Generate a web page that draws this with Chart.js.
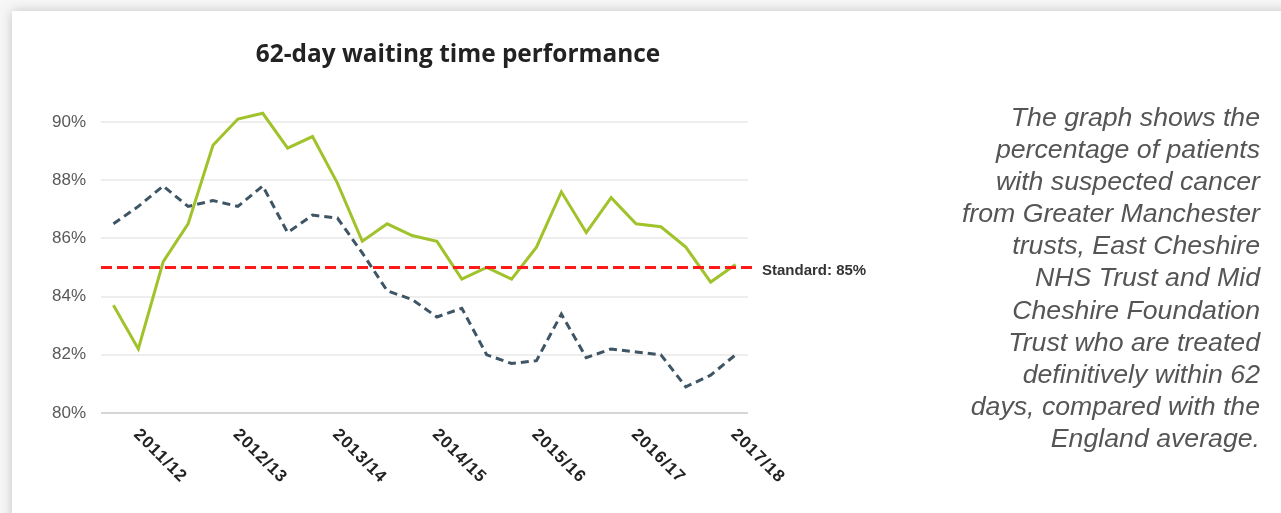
<!DOCTYPE html>
<html>
<head>
<meta charset="utf-8">
<script src="https://cdn.jsdelivr.net/npm/chart.js@4"></script>
<style>
  body { margin: 0; background: #f6f6f6; overflow: hidden; width: 1281px; height: 513px; position: relative; }
  .card { position: absolute; left: 12px; top: 11px; width: 1320px; height: 560px; background: #fff;
          box-shadow: 0 0 11px rgba(0,0,0,0.2); }
  #chart { position: absolute; left: 0; top: 0; }
  .note { position: absolute; right: 21px; top: 101px; text-align: right; white-space: nowrap;
          font: italic 26.7px "Liberation Sans", Arial, sans-serif; line-height: 32.1px; color: #555; }
</style>
</head>
<body>
<div class="card"></div>
<canvas id="chart" width="1281" height="513"></canvas>
<div class="note">The graph shows the<br>percentage of patients<br>with suspected cancer<br>from Greater Manchester<br>trusts, East Cheshire<br>NHS Trust and Mid<br>Cheshire Foundation<br>Trust who are treated<br>definitively within 62<br>days, compared with the<br>England average.</div>
<script>
// quarterly points, year label on the first quarter shown
const periods = ['', '2011/12', '', '', '', '2012/13', '', '', '', '2013/14', '', '', '',
  '2014/15', '', '', '', '2015/16', '', '', '', '2016/17', '', '', '', '2017/18'];

const gmValues = [83.7, 82.2, 85.2, 86.5, 89.2, 90.1, 90.3, 89.1, 89.5, 87.9, 85.9, 86.5, 86.1,
  85.9, 84.6, 85.0, 84.6, 85.7, 87.6, 86.2, 87.4, 86.5, 86.4, 85.7, 84.5, 85.1];

const englandValues = [86.5, 87.1, 87.8, 87.1, 87.3, 87.1, 87.8, 86.2, 86.8, 86.7, 85.5, 84.2, 83.9,
  83.3, 83.6, 82.0, 81.7, 81.8, 83.4, 81.9, 82.2, 82.1, 82.0, 80.9, 81.3, 82.0];

const standard = 85;
const yTicks = [80, 82, 84, 86, 88, 90];

const title = '62-day waiting time performance';

const extras = {
  id: 'extras',
  afterDatasetsDraw(chart) {
    const { ctx, chartArea, scales } = chart;
    const x = scales.x, y = scales.y;

    // standard line
    const sy = y.getPixelForValue(standard);
    ctx.save();
    ctx.strokeStyle = '#ff1a1a';
    ctx.lineWidth = 3;
    ctx.setLineDash([11, 5]);
    ctx.beginPath();
    ctx.moveTo(chartArea.left, sy);
    ctx.lineTo(chartArea.right + 7, sy);
    ctx.stroke();
    ctx.setLineDash([]);
    ctx.fillStyle = '#333';
    ctx.font = 'bold 15px "Liberation Sans", Arial, sans-serif';
    ctx.textBaseline = 'middle';
    ctx.fillText('Standard: ' + standard + '%', chartArea.right + 14, sy + 3);

    // title
    ctx.font = 'bold 24.4px "Open Sans", sans-serif';
    ctx.fillStyle = '#222';
    ctx.textAlign = 'center';
    ctx.fillText(title, 458, 55);

    // rotated year labels
    ctx.font = 'bold 17px "Liberation Sans", Arial, sans-serif';
    ctx.fillStyle = '#222';
    ctx.textAlign = 'left';
    ctx.letterSpacing = '1px';
    periods.forEach((p, i) => {
      if (!p) return;
      ctx.save();
      ctx.translate(x.getPixelForValue(i) - 2, chartArea.bottom + 19);
      ctx.rotate(Math.PI / 4);
      ctx.fillText(p, 0, 0);
      ctx.restore();
    });
    ctx.restore();
  }
};

new Chart(document.getElementById('chart'), {
  type: 'line',
  data: {
    labels: periods,
    datasets: [
      {
        label: 'Greater Manchester and Cheshire',
        data: gmValues,
        borderColor: '#a0c22a',
        borderWidth: 3,
        pointRadius: 0,
        tension: 0,
        clip: false
      },
      {
        label: 'England',
        data: englandValues,
        borderColor: '#3e5565',
        borderWidth: 3,
        borderDash: [8, 5],
        pointRadius: 0,
        tension: 0,
        clip: false
      }
    ]
  },
  options: {
    responsive: false,
    animation: false,
    layout: { padding: { left: 0, top: 122, right: 533, bottom: 100 } },
    plugins: { legend: { display: false }, tooltip: { enabled: false } },
    scales: {
      x: { display: false, offset: true },
      y: {
        min: 80,
        max: 90,
        afterBuildTicks: s => { s.ticks = yTicks.map(v => ({ value: v })); },
        afterFit: s => { s.width = 101; },
        border: { display: false },
        grid: {
          drawTicks: false,
          lineWidth: 2,
          color: c => (c.tick && c.tick.value === 80 ? '#d6d6d6' : '#eeeeee')
        },
        ticks: {
          padding: 15,
          color: '#595959',
          font: { family: '"Liberation Sans", Arial, sans-serif', size: 17 },
          callback: v => v + '%'
        }
      }
    }
  },
  plugins: [extras]
});
</script>
</body>
</html>
